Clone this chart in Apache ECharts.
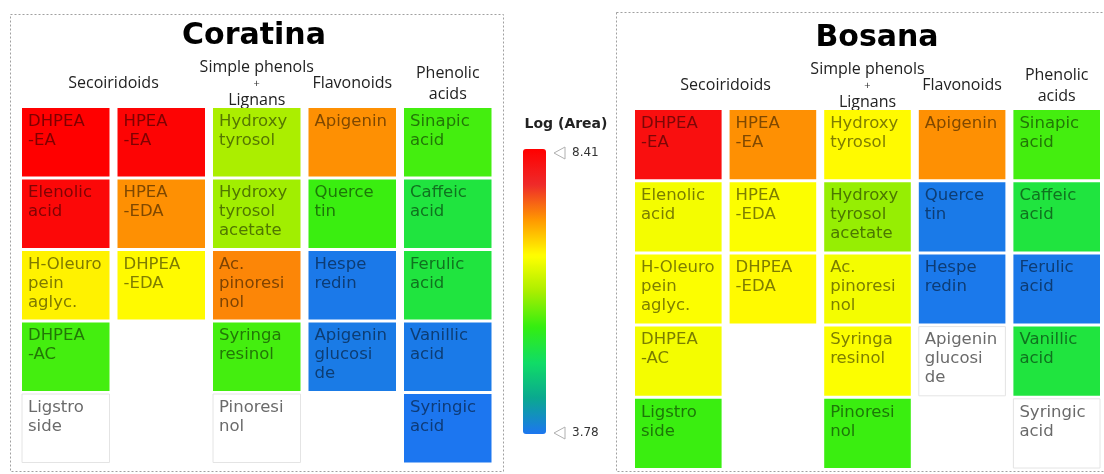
<!DOCTYPE html>
<html>
<head>
<meta charset="utf-8">
<script src="https://cdn.jsdelivr.net/npm/echarts@6/dist/echarts.min.js"></script>
<style>
  html, body { margin: 0; padding: 0; background: #ffffff; }
  #chart { width: 1104px; height: 474px; }
</style>
</head>
<body>
<div id="chart"></div>
<script>
// ---- data -------------------------------------------------------------
const cultivars = ['Coratina', 'Bosana'];
const groupNames = ['Secoiridoids', 'Simple phenols\n+\nLignans', 'Flavonoids', 'Phenolic\nacids'];
const groupColumns = [[0, 1], [2, 2], [3, 3], [4, 4]];
const columnIndex = [0, 1, 2, 3, 4];
const rowIndex = [0, 1, 2, 3, 4];

const compoundNames = [
  'DHPEA\n-EA', 'Elenolic\nacid', 'H-Oleuro\npein\naglyc.', 'DHPEA\n-AC', 'Ligstro\nside',
  'HPEA\n-EA', 'HPEA\n-EDA', 'DHPEA\n-EDA',
  'Hydroxy\ntyrosol', 'Hydroxy\ntyrosol\nacetate', 'Ac.\npinoresi\nnol', 'Syringa\nresinol', 'Pinoresi\nnol',
  'Apigenin', 'Querce\ntin', 'Hespe\nredin', 'Apigenin\nglucosi\nde',
  'Sinapic\nacid', 'Caffeic\nacid', 'Ferulic\nacid', 'Vanillic\nacid', 'Syringic\nacid'
];
const compoundColumn = [0, 0, 0, 0, 0, 1, 1, 1, 2, 2, 2, 2, 2, 3, 3, 3, 3, 4, 4, 4, 4, 4];
const compoundRow    = [0, 1, 2, 3, 4, 0, 1, 2, 0, 1, 2, 3, 4, 0, 1, 2, 3, 0, 1, 2, 3, 4];

// Log (Area); null = not detected
const coratinaLogArea = [
  8.41, 8.30, 6.75, 5.60, null,
  8.35, 7.30, 6.70,
  6.10, 6.05, 7.35, 5.60, null,
  7.30, 5.55, 3.82, 3.84,
  5.60, 5.20, 5.20, 3.83, 3.78
];
const bosanaLogArea = [
  8.20, 6.60, 6.65, 6.60, 5.55,
  7.30, 6.65, 6.70,
  6.70, 6.00, 6.60, 6.65, 5.55,
  7.30, 3.83, 3.81, null,
  5.60, 5.20, 3.82, 5.20, null
];
const logAreaMin = 3.78;
const logAreaMax = 8.41;

// ---- layout / style -----------------------------------------------------
const grids = [
  { left: 18, top: 106.5, width: 477.5, height: 357.5 },
  { left: 631, top: 108.5, width: 474, height: 361 }
];
const titleCenters = [[254, 36], [877, 38]];
const GAP_X = 8, GAP_Y = 3;
const scaleColors = ['#1c76f0', '#0aa890', '#10dc66', '#33ee11', '#aaee00',
                     '#ffff00', '#ff9900', '#ee2a2a', '#ff0000'];
const legendBar = { left: 523, top: 149, width: 23, height: 285 };

function darker(color, k) {
  const c = echarts.color.parse(color);
  return echarts.color.stringify([c[0] * k | 0, c[1] * k | 0, c[2] * k | 0, 1], 'rgba');
}

function tileData(values) {
  return compoundNames.map((n, i) => [
    compoundColumn[i], compoundRow[i], values[i] == null ? -1 : values[i]
  ]);
}

function renderTile(params, api) {
  const v = api.value(2);
  const detected = v >= logAreaMin - 1e-9;
  const c = api.coord([api.value(0), api.value(1)]);
  const s = api.size([1, 1]);
  const w = s[0] - GAP_X, h = s[1] - GAP_Y;
  const x = c[0] - w / 2, y = c[1] - h / 2;
  const fill = detected ? api.visual('color') : '#ffffff';
  const textFill = detected ? darker(fill, 0.5) : '#6a6a6a';
  return {
    type: 'group',
    children: [
      {
        type: 'rect',
        shape: { x: x, y: y, width: w, height: h },
        style: detected ? { fill: fill } : { fill: '#ffffff', stroke: '#e4e4e4', lineWidth: 1 }
      },
      {
        type: 'text',
        x: x + 6,
        y: y + 4,
        style: {
          text: compoundNames[params.dataIndex],
          fill: textFill,
          font: '16.5px "DejaVu Sans", sans-serif',
          lineHeight: 19,
          align: 'left',
          verticalAlign: 'top'
        }
      }
    ]
  };
}

const chart = echarts.init(document.getElementById('chart'), null, { renderer: 'canvas' });

const option = {
  backgroundColor: '#ffffff',
  animation: false,
  title: cultivars.map((name, g) => ({
    text: name,
    left: titleCenters[g][0],
    top: titleCenters[g][1],
    textAlign: 'center',
    textVerticalAlign: 'middle',
    padding: 0,
    textStyle: { fontFamily: 'DejaVu Sans', fontWeight: 'bold', fontSize: 30, color: '#000' }
  })).concat([{
    text: 'Log (Area)',
    left: 566,
    top: 124,
    textAlign: 'center',
    textVerticalAlign: 'middle',
    padding: 0,
    textStyle: { fontFamily: 'DejaVu Sans', fontWeight: 'bold', fontSize: 14, color: '#222' }
  }]),
  grid: grids.map(gr => Object.assign({ containLabel: false }, gr)),
  xAxis: grids.map((gr, g) => ({
    type: 'category', gridIndex: g, data: columnIndex, show: false, boundaryGap: true
  })),
  yAxis: grids.map((gr, g) => ({
    type: 'category', gridIndex: g, data: rowIndex, inverse: true, show: false, boundaryGap: true
  })),
  visualMap: {
    type: 'continuous',
    min: logAreaMin,
    max: logAreaMax,
    dimension: 2,
    seriesIndex: [0, 1],
    orient: 'vertical',
    calculable: false,
    showLabel: false,
    left: legendBar.left,
    top: legendBar.top,
    padding: 0,
    itemWidth: legendBar.width,
    itemHeight: legendBar.height,
    inRange: { color: scaleColors },
    outOfRange: { color: '#ffffff' }
  },
  series: [coratinaLogArea, bosanaLogArea].map((vals, g) => ({
    type: 'custom',
    name: cultivars[g],
    xAxisIndex: g,
    yAxisIndex: g,
    encode: { x: 0, y: 1 },
    data: tileData(vals),
    renderItem: renderTile
  }))
};

chart.setOption(option);

// Panel frames, colour-scale end markers and group headers
const graphics = [
  { type: 'rect', shape: { x: 10.5, y: 14.5, width: 493, height: 457 },
    style: { fill: null, stroke: '#a0a0a0', lineWidth: 1, lineDash: [2, 2] }, silent: true },
  { type: 'rect', shape: { x: 616.5, y: 12.5, width: 500, height: 459 },
    style: { fill: null, stroke: '#a0a0a0', lineWidth: 1, lineDash: [2, 2] }, silent: true }
];
[[logAreaMax, legendBar.top + 4], [logAreaMin, legendBar.top + legendBar.height - 1]].forEach(([val, y]) => {
  const x0 = legendBar.left + legendBar.width + 8;
  graphics.push({
    type: 'polygon', silent: true,
    shape: { points: [[x0, y], [x0 + 11, y - 6], [x0 + 11, y + 6]] },
    style: { fill: '#ffffff', stroke: '#b0b0b0', lineWidth: 1 }
  });
  graphics.push({
    type: 'text', silent: true, x: x0 + 18, y: y,
    style: { text: val.toFixed(2), font: '12px "DejaVu Sans", sans-serif', fill: '#333',
             align: 'left', verticalAlign: 'middle' }
  });
});
cultivars.forEach((name, g) => {
  groupNames.forEach((label, k) => {
    const [a, b] = groupColumns[k];
    const xa = chart.convertToPixel({ gridIndex: g }, [a, 0])[0];
    const xb = chart.convertToPixel({ gridIndex: g }, [b, 0])[0];
    const rich = label.split('\n').map(l => l === '+' ? '{s|+}' : '{n|' + l + '}').join('\n');
    graphics.push({
      type: 'text',
      x: (xa + xb) / 2,
      y: grids[g].top - 23,
      silent: true,
      style: {
        text: rich,
        align: 'center',
        verticalAlign: 'middle',
        rich: {
          n: { fontFamily: 'Open Sans', fontSize: 16, lineHeight: 21, fill: '#222', align: 'center' },
          s: { fontFamily: 'Open Sans', fontSize: 11, lineHeight: 12, fill: '#333', align: 'center' }
        }
      }
    });
  });
});
chart.setOption({ graphic: graphics });
</script>
</body>
</html>
